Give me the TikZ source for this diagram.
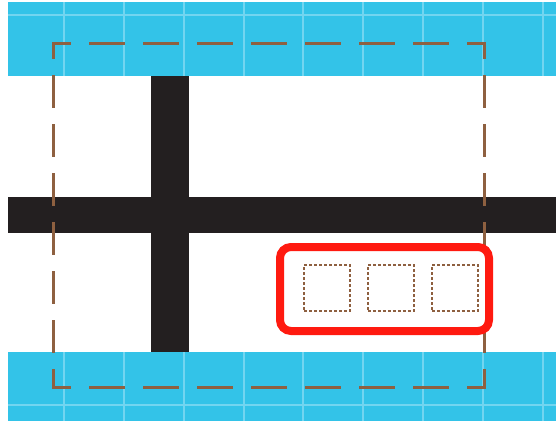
\documentclass[tikz,border=0pt]{standalone}
\usepackage{tikz}
\usetikzlibrary{positioning}
\definecolor{sky}{HTML}{33C3E8}
\definecolor{skyline}{HTML}{72D5F0}
\definecolor{tar}{HTML}{231F20}
\definecolor{umber}{HTML}{8E6040}
\definecolor{signal}{HTML}{FF1A10}

\begin{document}
\begin{tikzpicture}[x=1pt,y=-1pt,
    band/.style={fill=sky,draw=none},
    gridline/.style={draw=skyline,line width=1.8pt},
    road/.style={fill=tar,draw=none},
    frameh/.style={draw=umber,line width=3pt,line cap=rect,
                   dash pattern=on 33pt off 21pt,dash phase=17pt},
    framev/.style={draw=umber,line width=3pt,line cap=rect,
                   dash pattern=on 30pt off 19pt,dash phase=16pt},
    tray/.style={draw=signal,line width=8pt,rounded corners=11pt,fill=white,
                 minimum width=209pt,minimum height=84pt,inner sep=0pt},
    slot/.style={draw=umber,line width=1.4pt,dash pattern=on 3pt off 2pt,
                 minimum size=46pt,inner sep=0pt}]
  \useasboundingbox (0,0) rectangle (556,421);
  % blue bands
  \fill[band] (8,2) rectangle (556,76);
  \fill[band] (8,352) rectangle (556,421);
  \foreach \gx in {64,124,184,244,303,363,423,483,543}{
    \draw[gridline] (\gx,2) -- (\gx,76);
    \draw[gridline] (\gx,352) -- (\gx,421);
  }
  \draw[gridline] (8,15) -- (556,15);
  \draw[gridline] (8,405) -- (556,405);
  % black cross
  \fill[road] (8,197) rectangle (556,233);
  \fill[road] (151,76) rectangle (189,352);
  % dashed outline
  \coordinate (tl) at (53,43);
  \coordinate (tr) at (484,43);
  \coordinate (bl) at (53,387);
  \coordinate (br) at (484,387);
  \draw[frameh] (tl) -- (tr);
  \draw[frameh] (bl) -- (br);
  \draw[framev] (tl) -- (bl);
  \draw[framev] (tr) -- (br);
  % red tray with slots
  \node[tray] (box) at (384.5,289) {};
  \node[slot] (s1) at (327,288) {};
  \node[slot,right=16.5pt of s1] (s2) {};
  \node[slot,right=16.5pt of s2] (s3) {};
\end{tikzpicture}
\end{document}
